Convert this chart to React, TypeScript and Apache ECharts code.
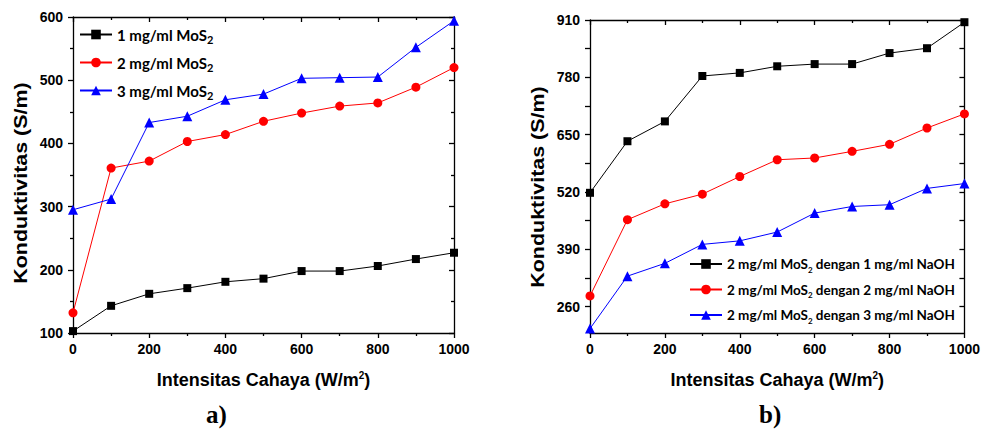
import React, { useEffect, useRef } from "react";
import * as echarts from "echarts";

const X = [0, 100, 200, 300, 400, 500, 600, 700, 800, 900, 1000];
const A1 = [103, 143, 162, 171, 181, 186, 198, 198, 206, 217, 227];
const A2 = [132, 361, 372, 403, 414, 435, 448, 459, 464, 489, 520];
const A3 = [295, 312, 433, 443, 469, 478, 503, 504, 505, 552, 594];
const B1 = [518, 635, 680, 783, 790, 805, 810, 810, 835, 846, 905];
const B2 = [284, 457, 493, 515, 555, 593, 597, 612, 628, 665, 697];
const B3 = [210, 329, 358, 401, 409, 429, 472, 487, 491, 528, 539];

const NAMES_A = ["1 mg/ml MoS2", "2 mg/ml MoS2", "3 mg/ml MoS2"];
const NAMES_B = [
  "2 mg/ml MoS2 dengan 1 mg/ml NaOH",
  "2 mg/ml MoS2 dengan 2 mg/ml NaOH",
  "2 mg/ml MoS2 dengan 3 mg/ml NaOH",
];
const B_LABELS = [260, 390, 520, 650, 780, 910];
const B_TICKS = [260, 325, 390, 455, 520, 585, 650, 715, 780, 845, 910];
const X_TITLE = "{t|Intensitas Cahaya (W/m}{sup|2}{t|)}";
const Y_TITLE = "Konduktivitas (S/m)";
const PANEL_LABELS = ["a)", "b)"];

const COLORS = ["#000000", "#ff0000", "#0000ff"];
const SYMBOLS = ["rect", "circle", "triangle"];
const SIZES = [8, 9, 10];

const SANS = "Liberation Sans, Arial, sans-serif";
const labelFont = {
  fontFamily: SANS,
  fontWeight: "bold",
  fontSize: 14,
  color: "#000",
  formatter: (v: number) => String(v),
};
const lineStyle = { color: "#000", width: 1.3 };

function legendFormatter(name: string) {
  const i = name.indexOf("MoS2");
  const before = name.slice(0, i);
  const after = name.slice(i + 4);
  return "{t|" + before + "MoS}{s|2}" + (after ? "{t|" + after + "}" : "");
}

function legendRich(fs: number, sfs: number, lh: number) {
  return {
    t: { fontFamily: "Lato, sans-serif", fontWeight: "bold", fontSize: fs, color: "#000", lineHeight: lh },
    s: { fontFamily: "Lato, sans-serif", fontWeight: "bold", fontSize: sfs, color: "#000", lineHeight: 4, verticalAlign: "bottom" },
  };
}

export default function App() {
  const ref = useRef<HTMLDivElement>(null);
  useEffect(() => {
    if (!ref.current) return;
    const chart = echarts.init(ref.current, null, { renderer: "svg" });

    const xBottom = (gi: number) => ({
      type: "value",
      gridIndex: gi,
      min: 0,
      max: 1000,
      interval: 200,
      position: "bottom",
      axisLine: { show: true, onZero: false, lineStyle },
      axisTick: { show: true, inside: false, length: 5, lineStyle },
      minorTick: { show: true, splitNumber: 2, length: 3, lineStyle },
      splitLine: { show: false },
      axisLabel: { ...labelFont, margin: 9 },
      name: X_TITLE,
      nameLocation: "middle",
      nameGap: 37,
      nameTextStyle: {
        rich: {
          t: { fontFamily: SANS, fontWeight: "bold", fontSize: 18, color: "#000", lineHeight: 20 },
          sup: { fontFamily: SANS, fontWeight: "bold", fontSize: 10, color: "#000", lineHeight: 6, verticalAlign: "top" },
        },
      },
    });
    const xTop = (gi: number) => ({
      type: "value",
      gridIndex: gi,
      min: 0,
      max: 1000,
      interval: 200,
      position: "top",
      axisLine: { show: true, onZero: false, lineStyle },
      axisTick: { show: true, inside: true, length: 5, lineStyle },
      minorTick: { show: true, splitNumber: 2, length: 3, lineStyle },
      splitLine: { show: false },
      axisLabel: { show: false },
    });

    const series: any[] = [];
    [A1, A2, A3].forEach((d, i) =>
      series.push({
        type: "line",
        name: NAMES_A[i],
        xAxisIndex: 0,
        yAxisIndex: 0,
        data: X.map((x, k) => [x, d[k]]),
        symbol: SYMBOLS[i],
        symbolSize: SIZES[i],
        lineStyle: { color: COLORS[i], width: 1 },
        itemStyle: { color: COLORS[i] },
        z: 3 + i,
      })
    );
    [B1, B2, B3].forEach((d, i) =>
      series.push({
        type: "line",
        name: NAMES_B[i],
        xAxisIndex: 1,
        yAxisIndex: 1,
        data: X.map((x, k) => [x, d[k]]),
        symbol: SYMBOLS[i],
        symbolSize: SIZES[i],
        lineStyle: { color: COLORS[i], width: 1 },
        itemStyle: { color: COLORS[i] },
        z: 3 + i,
      })
    );

    const yTitle = (x: number, y: number) => ({
      type: "text",
      x,
      y,
      rotation: Math.PI / 2,
      scaleX: 1.13,
      style: {
        text: Y_TITLE,
        fontFamily: SANS,
        fontWeight: "bold",
        fontSize: 19,
        fill: "#000",
        align: "center",
        verticalAlign: "middle",
      },
    });

    chart.setOption({
      animation: false,
      backgroundColor: "#fff",
      grid: [
        { left: 73, top: 17, width: 381, height: 316 },
        { left: 590, top: 20, width: 377, height: 313 },
      ],
      xAxis: [xBottom(0), xBottom(1), xTop(0), xTop(1)],
      yAxis: [
        {
          type: "value",
          gridIndex: 0,
          min: 100,
          max: 600,
          interval: 100,
          position: "left",
          axisLine: { show: true, onZero: false, lineStyle },
          axisTick: { show: true, inside: false, length: 5, lineStyle },
          minorTick: { show: true, splitNumber: 2, length: 3, lineStyle },
          splitLine: { show: false },
          axisLabel: { ...labelFont, margin: 10 },
        },
        {
          type: "value",
          gridIndex: 1,
          min: 200,
          max: 910,
          position: "left",
          axisLine: { show: true, onZero: false, lineStyle },
          axisTick: { show: true, inside: false, length: 5, lineStyle, customValues: B_TICKS },
          splitLine: { show: false },
          axisLabel: { ...labelFont, margin: 10, customValues: B_LABELS },
        },
        {
          type: "value",
          gridIndex: 0,
          min: 100,
          max: 600,
          interval: 100,
          position: "right",
          axisLine: { show: true, onZero: false, lineStyle },
          axisTick: { show: true, inside: true, length: 5, lineStyle },
          minorTick: { show: true, splitNumber: 2, length: 3, lineStyle },
          splitLine: { show: false },
          axisLabel: { show: false },
        },
        {
          type: "value",
          gridIndex: 1,
          min: 200,
          max: 910,
          position: "right",
          axisLine: { show: true, onZero: false, lineStyle },
          axisTick: { show: true, inside: true, length: 5, lineStyle, customValues: B_TICKS },
          splitLine: { show: false },
          axisLabel: { show: false },
        },
      ],
      legend: [
        {
          data: NAMES_A,
          orient: "vertical",
          left: 79,
          top: 27,
          padding: 0,
          itemWidth: 32,
          itemHeight: 12,
          itemGap: 10,
          formatter: legendFormatter,
          textStyle: { rich: legendRich(15, 11, 21) },
          selectedMode: false,
        },
        {
          data: NAMES_B,
          orient: "vertical",
          left: 689,
          top: 257,
          padding: 0,
          itemWidth: 32,
          itemHeight: 12,
          itemGap: 9,
          formatter: legendFormatter,
          textStyle: { rich: legendRich(13.5, 8, 19) },
          selectedMode: false,
        },
      ],
      graphic: [
        yTitle(20, 183),
        yTitle(537, 187),
        {
          type: "text",
          left: 206,
          top: 402,
          style: { text: PANEL_LABELS[0], fontFamily: "Liberation Serif, serif", fontWeight: "bold", fontSize: 25, fill: "#000" },
        },
        {
          type: "text",
          left: 759,
          top: 402,
          style: { text: PANEL_LABELS[1], fontFamily: "Liberation Serif, serif", fontWeight: "bold", fontSize: 25, fill: "#000" },
        },
      ],
      series,
    });
    return () => chart.dispose();
  }, []);
  return (
    <div
      ref={ref}
      style={{ position: "fixed", left: 0, top: 0, width: 983, height: 437, background: "#fff" }}
    />
  );
}
